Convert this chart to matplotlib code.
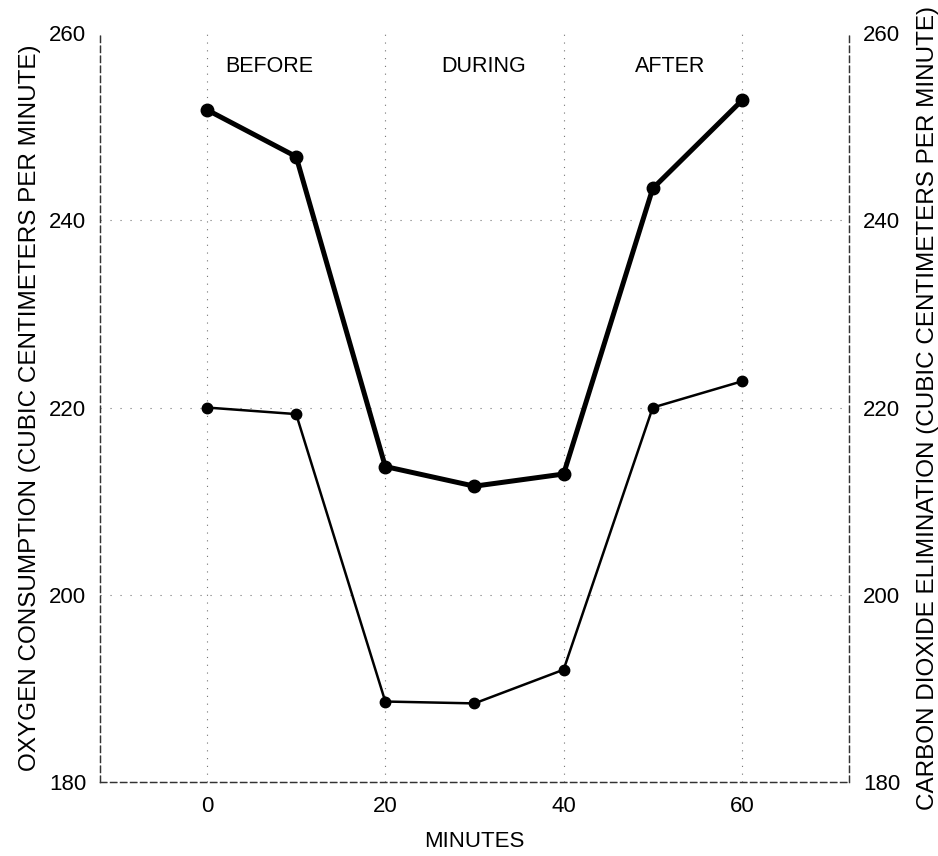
import numpy as np
import matplotlib
matplotlib.use("Agg")
import matplotlib.pyplot as plt

plt.rcParams['font.family'] = ['Liberation Sans', 'DejaVu Sans']

minutes = [0, 10, 20, 30, 40, 50, 60]
oxygen = [251.8, 246.8, 213.7, 211.6, 212.9, 243.4, 252.8]
co2 = [220.0, 219.3, 188.6, 188.4, 192.0, 220.0, 222.8]

phase_names = ["BEFORE", "DURING", "AFTER"]
phase_x = [7, 31, 52]

x_ticks = [0, 20, 40, 60]
y_ticks = [180, 200, 220, 240, 260]

fig = plt.figure(figsize=(9.38, 8.56), dpi=100)
ax = fig.add_subplot(111)
fig.subplots_adjust(left=0.1066, right=0.905, top=0.9614, bottom=0.0864)

# faint broken grid, like the original print
for xv in x_ticks:
    ax.axvline(xv, color='0.45', lw=0.8, ls=(0, (1, 6)), zorder=0)
for yv in y_ticks[1:-1]:
    ax.axhline(yv, color='0.45', lw=0.8, ls=(0, (1, 8)), zorder=0)

ax.plot(minutes, oxygen, color='black', lw=3.6, marker='o', ms=9, zorder=3)
ax.plot(minutes, co2, color='black', lw=1.8, marker='o', ms=7.5, zorder=3)

for name, xp in zip(phase_names, phase_x):
    ax.text(xp, 256.4, name, ha='center', va='center', fontsize=15.5)

ax.set_xlim(-12, 72)
ax.set_ylim(180, 260)
ax.set_xticks(x_ticks)
ax.set_yticks(y_ticks)
ax.tick_params(length=0, labelsize=16, pad=10)
ax.set_xlabel("MINUTES", fontsize=16, labelpad=10)
ax.set_ylabel("OXYGEN CONSUMPTION (CUBIC CENTIMETERS PER MINUTE)",
              fontsize=17.5, labelpad=6)

ax2 = ax.twinx()
ax2.set_ylim(180, 260)
ax2.set_yticks(y_ticks)
ax2.tick_params(length=0, labelsize=16, pad=10)
ax2.set_ylabel("CARBON DIOXIDE ELIMINATION (CUBIC CENTIMETERS PER MINUTE)",
               fontsize=17.5, labelpad=12)

for a in (ax, ax2):
    a.spines['top'].set_visible(False)
    for s in ('left', 'right', 'bottom'):
        a.spines[s].set_linestyle((0, (5, 3)))
        a.spines[s].set_linewidth(0.9)
        a.spines[s].set_color('0.2')

fig.savefig("out.png", dpi=100)
